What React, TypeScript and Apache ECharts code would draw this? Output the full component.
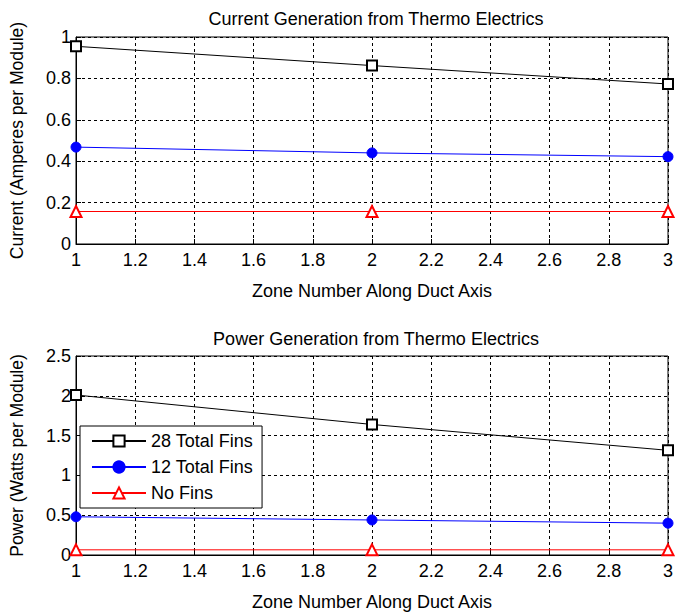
import React, { useEffect, useRef } from "react";
import * as echarts from "echarts";

const zones = [1, 2, 3];
const currentFins28 = [0.955, 0.862, 0.773];
const currentFins12 = [0.468, 0.44, 0.422];
const currentNoFins = [0.157, 0.157, 0.157];
const powerFins28 = [2.01, 1.64, 1.315];
const powerFins12 = [0.48, 0.44, 0.4];
const powerNoFins = [0.065, 0.065, 0.065];
const seriesNames = ["28 Total Fins", "12 Total Fins", "No Fins"];
const titles = ["Current Generation from Thermo Electrics", "Power Generation from Thermo Electrics"];
const yNames = ["Current (Amperes per Module)", "Power (Watts per Module)"];
const xName = "Zone Number Along Duct Axis";

const FONT = "'Liberation Sans', Arial, sans-serif";
const FS = 18;

const styles = [
  { color: "#000000", symbol: "emptyRect", size: 10 },
  { color: "#0000ff", symbol: "circle", size: 10 },
  { color: "#ff0000", symbol: "emptyTriangle", size: 11 },
];

export default function App() {
  const ref = useRef<HTMLDivElement>(null);
  useEffect(() => {
    if (!ref.current) return;
    const chart = echarts.init(ref.current, undefined, { renderer: "svg" });
    const mk = (vals: number[]) => zones.map((z, i) => [z, vals[i]]);
    const data = [
      [currentFins28, currentFins12, currentNoFins],
      [powerFins28, powerFins12, powerNoFins],
    ];
    const grids = [
      { left: 74, right: 15, top: 37, height: 207 },
      { left: 74, right: 15, top: 356, height: 207 },
    ];
    const series: any[] = [];
    data.forEach((group, gi) => {
      group.forEach((vals, si) => {
        const s = styles[si];
        series.push({
          type: "line",
          name: seriesNames[si],
          xAxisIndex: gi,
          yAxisIndex: gi,
          data: mk(vals),
          symbol: s.symbol,
          symbolSize: s.size,
          showAllSymbol: true,
          lineStyle: { color: s.color, width: 1 },
          itemStyle: { color: s.color, borderColor: s.color, borderWidth: 1 },
          emphasis: { disabled: true },
          z: 5,
        });
      });
    });
    const splitLine = { show: true, lineStyle: { color: "#000", width: 1, type: [3, 3] as any } };
    const labelFmt = (v: number) => String(+v.toFixed(2));
    chart.setOption({
      animation: false,
      backgroundColor: "#fff",
      title: titles.map((t, i) => ({
        text: t,
        left: 74 + 594 / 2,
        textAlign: "center",
        top: i === 0 ? 5 : 325,
        textStyle: { fontFamily: FONT, fontSize: FS, fontWeight: "normal", color: "#000" },
      })),
      grid: grids.map((g) => ({ ...g, show: true, borderColor: "#000", borderWidth: 1, backgroundColor: "transparent" })),
      xAxis: [0, 1].map((i) => ({
        type: "value",
        gridIndex: i,
        min: 1,
        max: 3,
        interval: 0.2,
        name: xName,
        nameLocation: "middle",
        nameGap: 38,
        nameTextStyle: { fontFamily: FONT, fontSize: FS, color: "#000" },
        axisLine: { show: true, lineStyle: { color: "#000" } },
        axisTick: { show: true, inside: true, length: 5, lineStyle: { color: "#000" } },
        axisLabel: { fontFamily: FONT, fontSize: FS, color: "#000", margin: 7, formatter: labelFmt },
        splitLine,
      })),
      yAxis: [0, 1].map((i) => ({
        type: "value",
        gridIndex: i,
        min: 0,
        max: i === 0 ? 1 : 2.5,
        interval: i === 0 ? 0.2 : 0.5,
        name: yNames[i],
        nameLocation: "middle",
        nameGap: 50,
        nameTextStyle: { fontFamily: FONT, fontSize: 17.5, color: "#000" },
        axisLine: { show: true, lineStyle: { color: "#000" } },
        axisTick: { show: true, inside: true, length: 5, lineStyle: { color: "#000" } },
        axisLabel: { fontFamily: FONT, fontSize: FS, color: "#000", margin: 5, formatter: labelFmt },
        splitLine,
      })),
      legend: {
        show: true,
        data: seriesNames,
        orient: "vertical",
        left: 80,
        top: 426,
        padding: [6, 9, 6, 11],
        itemGap: 8,
        itemWidth: 54,
        itemHeight: 14,
        backgroundColor: "#fff",
        borderColor: "#000",
        borderWidth: 1,
        borderRadius: 0,
        selectedMode: false,
        textStyle: { fontFamily: FONT, fontSize: 18, color: "#000", lineHeight: 16 },
      },
      series,
    });
    return () => chart.dispose();
  }, []);
  return <div ref={ref} style={{ width: 683, height: 612, position: "absolute", left: 0, top: 0 }} />;
}
